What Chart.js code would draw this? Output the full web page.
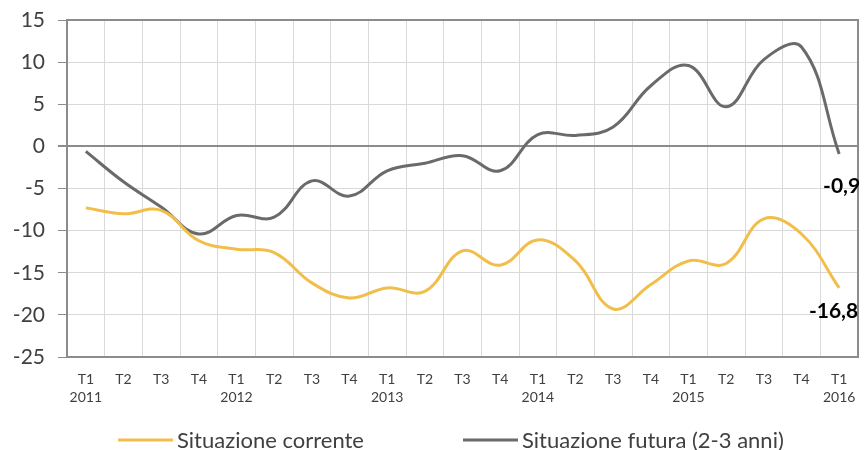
<!DOCTYPE html>
<html>
<head>
<meta charset="utf-8">
<script src="https://cdn.jsdelivr.net/npm/chart.js@4/dist/chart.umd.min.js"></script>
<style>
body{margin:0;background:#fff;}
</style>
</head>
<body>
<canvas id="myChart" width="864" height="450"></canvas>
<script>
var quarters = ['T1','T2','T3','T4','T1','T2','T3','T4','T1','T2','T3','T4','T1','T2','T3','T4','T1','T2','T3','T4','T1'];
var years = ['2011','','','','2012','','','','2013','','','','2014','','','','2015','','','','2016'];
var corrente = [-7.3, -8.0, -7.6, -11.2, -12.2, -12.6, -16.2, -18.0, -16.8, -17.2, -12.4, -14.1, -11.1, -13.6, -19.3, -16.4, -13.6, -13.9, -8.6, -10.4, -16.8];
var futura = [-0.6, -4.2, -7.2, -10.4, -8.2, -8.4, -4.1, -5.9, -2.9, -2.0, -1.1, -2.9, 1.4, 1.3, 2.3, 7.2, 9.6, 4.7, 10.3, 11.8, -0.9];
var seriesNames = ['Situazione corrente', 'Situazione futura (2-3 anni)'];
var lastLabels = ['-16,8', '-0,9'];
var yMin = -25, yMax = 15, yStep = 5;

var colCorrente = '#F2BE4A';
var colFutura = '#6A6A6A';
var fontName = 'Lato, "Open Sans", sans-serif';

var labels = [];
$each = function(arr, fn){ for (var i = 0; i < arr.length; i++) fn(i, arr[i]); };
$each(quarters, function(i, q){ labels.push(years[i] ? [q, years[i]] : q); });

// border box, end labels and legend
var extras = {
	id: 'extras',
	afterDatasetsDraw: function(chart){
		var ctx = chart.ctx;
		var a = chart.chartArea;
		ctx.save();
		ctx.strokeStyle = '#8C8C8C';
		ctx.lineWidth = 2;
		ctx.strokeRect(a.left, a.top, a.right - a.left, a.bottom - a.top);

		// value labels on last point
		ctx.fillStyle = '#000';
		ctx.font = 'bold 21px ' + fontName;
		ctx.textBaseline = 'middle';
		var offs = [[19, 23], [21, 32]];
		chart.data.datasets.forEach(function(ds, i){
			var meta = chart.getDatasetMeta(i);
			var p = meta.data[meta.data.length - 1];
			ctx.textAlign = 'right';
			ctx.fillText(lastLabels[i], p.x + offs[i][0], p.y + offs[i][1]);
		});

		// legend
		var items = [[118, colCorrente], [463, colFutura]];
		ctx.font = '22px ' + fontName;
		ctx.textAlign = 'left';
		ctx.fillStyle = '#404040';
		items.forEach(function(it, i){
			ctx.strokeStyle = it[1];
			ctx.lineWidth = 3;
			ctx.beginPath();
			ctx.moveTo(it[0], 440);
			ctx.lineTo(it[0] + 55, 440);
			ctx.stroke();
			ctx.fillText(seriesNames[i], it[0] + 59, 441);
		});
		ctx.restore();
	}
};

var ctx = document.getElementById('myChart').getContext('2d');
var myChart = new Chart(ctx, {
	type: 'line',
	data: {
		labels: labels,
		datasets: [
			{
				label: seriesNames[0],
				data: corrente,
				borderColor: colCorrente,
				backgroundColor: colCorrente,
				borderWidth: 3,
				pointRadius: 0,
				tension: 0.4
			},
			{
				label: seriesNames[1],
				data: futura,
				borderColor: colFutura,
				backgroundColor: colFutura,
				borderWidth: 3,
				pointRadius: 0,
				tension: 0.4
			}
		]
	},
	options: {
		responsive: false,
		animation: false,
		layout: { padding: { top: 20, right: 6, left: 0, bottom: 0 } },
		plugins: {
			legend: { display: false },
			tooltip: { enabled: false }
		},
		scales: {
			x: {
				offset: true,
				grid: { offset: true, color: '#D9D9D9', drawTicks: false },
				border: { display: false },
				ticks: { color: '#404040', font: { family: fontName, size: 14, lineHeight: 1.3 }, padding: 13, maxRotation: 0, autoSkip: false },
				afterFit: function(scale){ scale.height = 93; scale.paddingLeft = 0; scale.paddingRight = 0; }
			},
			y: {
				min: yMin,
				max: yMax,
				grid: {
					color: function(c){ return c.tick && c.tick.value === 0 ? '#8C8C8C' : '#D9D9D9'; },
					lineWidth: function(c){ return c.tick && c.tick.value === 0 ? 2 : 1; },
					tickColor: '#8C8C8C',
					tickLength: 9
				},
				border: { display: true, color: '#8C8C8C', width: 2 },
				ticks: { stepSize: yStep, color: '#404040', font: { family: fontName, size: 21 }, padding: 13 },
				afterFit: function(scale){ scale.width = 67; scale.paddingTop = 0; scale.paddingBottom = 0; }
			}
		}
	},
	plugins: [extras]
});
</script>
</body>
</html>
